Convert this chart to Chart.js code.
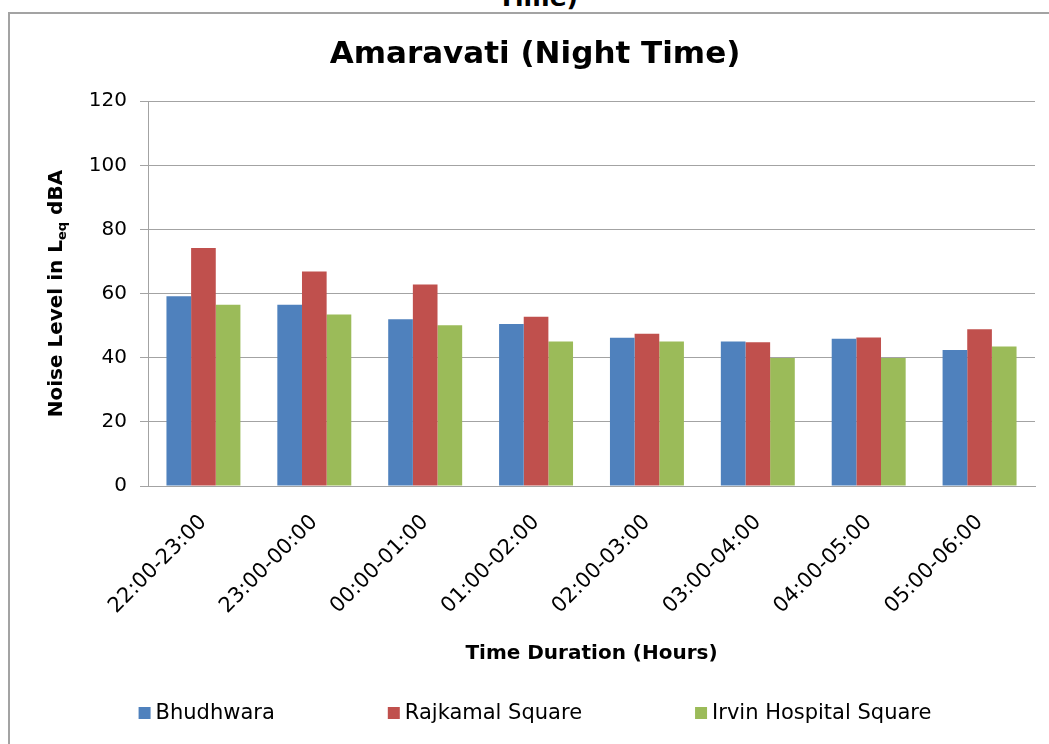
<!DOCTYPE html>
<html>
<head>
<meta charset="utf-8">
<script src="https://cdn.jsdelivr.net/npm/chart.js@4.4.1/dist/chart.umd.min.js"></script>
<style>
    body { margin: 0; width: 1049px; height: 744px; overflow: hidden; background: #fff; position: relative; }
    #cut { position: absolute; left: 0; top: -15px; width: 1076px; text-align: center; font: bold 25px "DejaVu Sans"; line-height: 25px; color: #000; }
    #frame { position: absolute; left: 8px; top: 12px; width: 1100px; height: 800px; border-left: 2px solid #a3a3a3; border-top: 2px solid #a3a3a3; }
    #wrap { position: absolute; left: 10px; top: 14px; width: 1050px; height: 730px; }
</style>
</head>
<body>
<div id="cut">Time)</div>
<div id="frame"></div>
<div id="wrap"><canvas id="canvas" width="1050" height="730"></canvas></div>
<script>
// data
const categories = ["22:00-23:00", "23:00-00:00", "00:00-01:00", "01:00-02:00", "02:00-03:00", "03:00-04:00", "04:00-05:00", "05:00-06:00"];
const bhudhwara = [59.2, 56.5, 52.0, 50.5, 46.2, 45.1, 45.9, 42.4];
const rajkamal = [74.2, 66.9, 62.8, 52.8, 47.5, 44.8, 46.3, 48.9];
const irvin = [56.5, 53.5, 50.1, 45.1, 45.1, 39.9, 39.9, 43.5];
const seriesNames = ["Bhudhwara", "Rajkamal Square", "Irvin Hospital Square"];
const seriesColors = ["#4F81BD", "#C0504D", "#9BBB59"];
const yTicks = [0, 20, 40, 60, 80, 100, 120];

const gridColor = "#a3a3a3";
const font = "DejaVu Sans";

// y title (with subscript) and legend drawn here
const extras = {
    id: "extras",
    afterDraw(chart) {
        const ctx = chart.ctx;
        const area = chart.chartArea;

        // axis title: Noise Level in Leq dBA
        const parts = [
            { t: "Noise Level in L", f: "bold 20px '" + font + "'", dy: 0 },
            { t: "eq", f: "bold 13px '" + font + "'", dy: 6 },
            { t: " dBA", f: "bold 20px '" + font + "'", dy: 0 },
        ];
        ctx.save();
        ctx.translate(area.left - 91, (area.top + area.bottom) / 2);
        ctx.rotate(-Math.PI / 2);
        ctx.fillStyle = "#000";
        ctx.textBaseline = "middle";
        ctx.textAlign = "left";
        let total = 0;
        parts.forEach((p) => {
            ctx.font = p.f;
            p.w = ctx.measureText(p.t).width;
            total += p.w;
        });
        let x = -total / 2;
        parts.forEach((p) => {
            ctx.font = p.f;
            ctx.fillText(p.t, x, p.dy);
            x += p.w;
        });
        ctx.restore();

        // legend
        ctx.save();
        ctx.font = "21px '" + font + "'";
        ctx.textBaseline = "middle";
        ctx.textAlign = "left";
        const box = 12, gapText = 5, gapItem = 113;
        const widths = chart.data.datasets.map((d) => box + gapText + ctx.measureText(d.label).width);
        let rowW = widths.reduce((a, b) => a + b, 0) + gapItem * (widths.length - 1);
        let lx = chart.width / 2 - rowW / 2;
        const ly = 699;
        chart.data.datasets.forEach((d, i) => {
            ctx.fillStyle = d.backgroundColor;
            ctx.fillRect(lx, ly - box / 2, box, box);
            ctx.fillStyle = "#000";
            ctx.fillText(d.label, lx + box + gapText, ly + 1);
            lx += widths[i] + gapItem;
        });
        ctx.restore();
    },
};

const source = {
    labels: categories,
    datasets: [
        { label: seriesNames[0], data: bhudhwara, backgroundColor: seriesColors[0] },
        { label: seriesNames[1], data: rajkamal, backgroundColor: seriesColors[1] },
        { label: seriesNames[2], data: irvin, backgroundColor: seriesColors[2] },
    ],
};

const config = {
    type: "bar",
    data: source,
    plugins: [extras],
    options: {
        responsive: false,
        animation: false,
        devicePixelRatio: 1,
        layout: { padding: { left: 25, right: 25, top: 0, bottom: 78 } },
        datasets: { bar: { categoryPercentage: 0.667, barPercentage: 1.0 } },
        plugins: {
            legend: { display: false },
            tooltip: { enabled: false },
            title: {
                display: true,
                text: "Amaravati (Night Time)",
                color: "#000",
                font: { family: font, size: 31, weight: "bold" },
                padding: { top: 22, bottom: 28 },
            },
        },
        scales: {
            x: {
                grid: { display: false },
                border: { display: true, color: gridColor, width: 1 },
                ticks: {
                    autoSkip: false,
                    minRotation: 45,
                    maxRotation: 45,
                    padding: 16,
                    color: "#000",
                    font: { family: font, size: 21 },
                },
                title: {
                    display: true,
                    text: "Time Duration (Hours)",
                    color: "#000",
                    font: { family: font, size: 20, weight: "bold" },
                    padding: { top: 0, bottom: 0 },
                },
                afterFit: (scale) => { scale.height = 180; },
            },
            y: {
                min: 0,
                max: 120,
                afterBuildTicks: (scale) => { scale.ticks = yTicks.map((v) => ({ value: v })); },
                grid: { color: gridColor, lineWidth: 1, tickLength: 8, drawTicks: true },
                border: { display: true, color: gridColor, width: 1 },
                ticks: {
                    padding: 13,
                    color: "#000",
                    font: { family: font, size: 20 },
                },
                afterFit: (scale) => { scale.width = 113; },
            },
        },
    },
};

const chart = new Chart(document.getElementById("canvas").getContext("2d"), config);
</script>
</body>
</html>
